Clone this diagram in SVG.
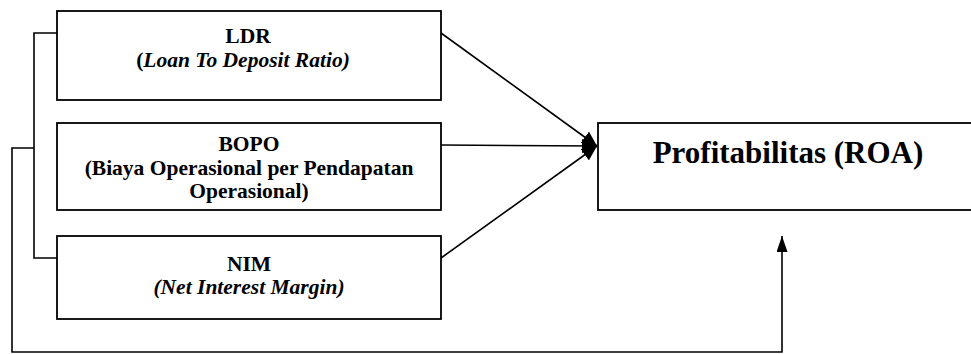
<svg xmlns="http://www.w3.org/2000/svg" width="971" height="354" viewBox="0 0 971 354">
<style>
.box{fill:#fff;stroke:#000;stroke-width:1.8}
.ln{fill:none;stroke:#000;stroke-width:1.6}
.tx{font-family:"Liberation Serif","Times New Roman",Times,serif;font-weight:bold;fill:#000;text-anchor:middle}
.t{font-size:21.5px}
.it{font-style:italic}
.big{font-size:31px}
</style>
<defs>
<marker id="ah" viewBox="0 0 10 10" refX="10" refY="5" markerWidth="16" markerHeight="11" markerUnits="userSpaceOnUse" orient="auto" preserveAspectRatio="none">
<path d="M0,0 L10,5 L0,10 Z" fill="#000"/>
</marker>
<marker id="ah2" viewBox="0 0 10 10" refX="10" refY="5" markerWidth="15" markerHeight="14" markerUnits="userSpaceOnUse" orient="auto" preserveAspectRatio="none">
<path d="M0,0 L10,5 L0,10 Z" fill="#000"/>
</marker>
</defs>
<g id="connectors">
<path class="ln" d="M57,33 H34 V258 H57"/>
<path class="ln" d="M34,148 H12 V352 H782 V236" marker-end="url(#ah)"/>
<line class="ln" x1="441" y1="33" x2="597" y2="146" marker-end="url(#ah2)"/>
<line class="ln" x1="441" y1="145" x2="597" y2="146" marker-end="url(#ah2)"/>
<line class="ln" x1="441" y1="258" x2="597" y2="146" marker-end="url(#ah2)"/>
</g>
<g id="ldr">
<rect class="box" x="57" y="11" width="384" height="89"/>
<text class="tx t" x="248" y="43">LDR</text>
<text class="tx t" x="243" y="67">(<tspan class="it">Loan To Deposit Ratio)</tspan></text>
</g>
<g id="bopo">
<rect class="box" x="57" y="123" width="384" height="87"/>
<text class="tx t" x="249" y="151">BOPO</text>
<text class="tx t" x="249" y="175">(Biaya Operasional per Pendapatan</text>
<text class="tx t" x="249" y="198">Operasional)</text>
</g>
<g id="nim">
<rect class="box" x="57" y="236" width="384" height="83"/>
<text class="tx t" x="249" y="271">NIM</text>
<text class="tx t it" x="249" y="294">(Net Interest Margin)</text>
</g>
<g id="roa">
<rect class="box" x="598" y="123" width="390" height="87"/>
<text class="tx big" x="788" y="163">Profitabilitas (ROA)</text>
</g>
</svg>
